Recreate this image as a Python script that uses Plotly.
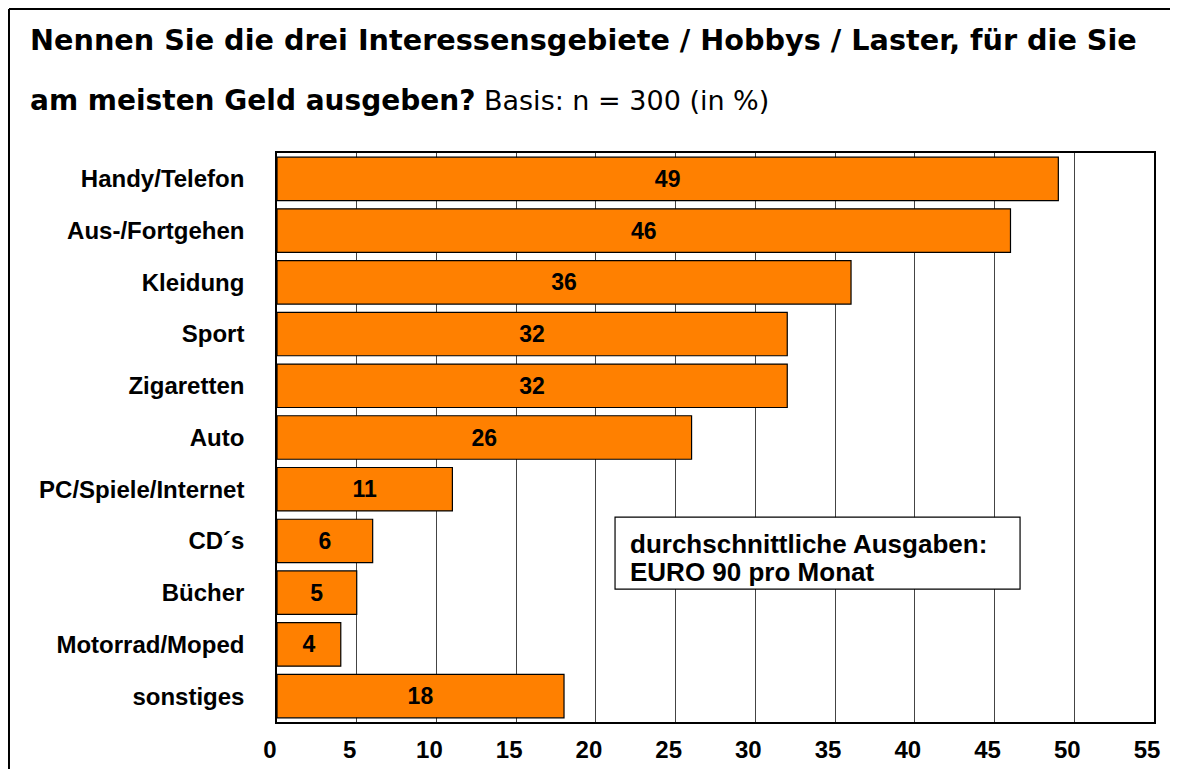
import plotly.graph_objects as go

categories = ["Handy/Telefon", "Aus-/Fortgehen", "Kleidung", "Sport", "Zigaretten", "Auto",
              "PC/Spiele/Internet", "CD´s", "Bücher", "Motorrad/Moped", "sonstiges"]
values = [49, 46, 36, 32, 32, 26, 11, 6, 5, 4, 18]
x_ticks = [0, 5, 10, 15, 20, 25, 30, 35, 40, 45, 50, 55]
info_lines = ["durchschnittliche Ausgaben:", "EURO 90 pro Monat"]

fig = go.Figure(go.Bar(
    y=categories, x=values, orientation="h",
    marker=dict(color="#FF8000", line=dict(color="black", width=1.2)),
    width=0.84,
    text=[str(v) for v in values], textposition="inside", insidetextanchor="middle",
    textangle=0, constraintext="none",
    textfont=dict(family="Liberation Sans", size=23, color="black", weight="bold"),
    hoverinfo="skip",
))

fig.update_layout(
    width=1170, height=761,
    margin=dict(l=269, r=24, t=145, b=47),
    paper_bgcolor="white", plot_bgcolor="white",
    showlegend=False,
    xaxis=dict(range=[0, 55], tickvals=x_ticks, showgrid=True, gridcolor="#444444", gridwidth=1,
               showline=True, linecolor="black", linewidth=1.5, mirror=True, zeroline=False,
               ticks="", ticklabelstandoff=5, ticklabelshift=-7, automargin=False,
               tickfont=dict(family="Liberation Sans", size=24, color="black", weight="bold")),
    yaxis=dict(autorange="reversed", showline=True, linecolor="black", linewidth=1.5, mirror=True,
               ticks="", ticklabelstandoff=26, showgrid=False, automargin=False,
               tickfont=dict(family="Liberation Sans", size=24, color="black", weight="bold")),
    font=dict(family="Liberation Sans", color="black"),
)

# outer frame
fig.add_shape(type="line", xref="paper", yref="paper", x0=-0.3056, x1=1.2, y0=1.2531, y1=1.2531,
              line=dict(color="black", width=2))
fig.add_shape(type="line", xref="paper", yref="paper", x0=-0.3056, x1=-0.3056, y0=1.2531, y1=-0.2,
              line=dict(color="black", width=2))

# title
fig.add_annotation(xref="paper", yref="paper", x=-0.2835, y=1.198, xanchor="left", yanchor="middle",
                   showarrow=False,
                   text="<b>Nennen Sie die drei Interessensgebiete / Hobbys / Laster, für die Sie</b>",
                   font=dict(family="DejaVu Sans", size=28.7, color="black"))
fig.add_annotation(xref="paper", yref="paper", x=-0.2835, y=1.0914, xanchor="left", yanchor="middle",
                   showarrow=False,
                   text="<b>am meisten Geld ausgeben?</b><span style='font-size:27px'> Basis: n = 300 (in %)</span>",
                   font=dict(family="DejaVu Sans", size=28, color="black"))

# info box
fig.add_shape(type="rect", xref="x", yref="y", x0=21.2, x1=46.6, y0=6.54, y1=7.93,
              fillcolor="white", line=dict(color="black", width=1.2), layer="above")
for yy, line in zip([7.06, 7.60], info_lines):
    fig.add_annotation(xref="x", yref="y", x=22.0, y=yy, xanchor="left", yanchor="middle",
                       showarrow=False, text="<b>" + line + "</b>",
                       font=dict(family="Liberation Sans", size=26, color="black"))

fig.write_html("out.html")
